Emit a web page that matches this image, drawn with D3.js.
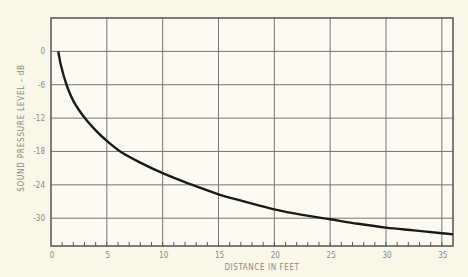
<!DOCTYPE html>
<html>
<head>
<meta charset="utf-8">
<script src="https://cdn.jsdelivr.net/npm/d3@7"></script>
<style>
  body { margin: 0; background: #f9f7e9; }
  svg { display: block; }
  text { font-family: "Liberation Sans Narrow", "DejaVu Sans Condensed", sans-serif; fill: #8a8a80; }
</style>
</head>
<body>
<div id="wrapper"></div>
<script>
// distance (feet) vs sound pressure level (dB)
const distance = [0.65, 0.9, 1.39, 2.0, 3.03, 4.0, 5.0, 6.2, 8, 10, 12.5, 15, 17.5, 20, 22.5, 25, 27.5, 30, 32.5, 35, 36]
const level    = [0, -2.6, -6, -8.9, -12, -14.2, -16.1, -18, -20, -21.9, -23.9, -25.7, -27.1, -28.4, -29.4, -30.2, -31.0, -31.7, -32.2, -32.7, -32.9]

const xTicks = [0, 5, 10, 15, 20, 25, 30, 35]
const yTicks = [0, -6, -12, -18, -24, -30]
const yTickLabels = ["0", "-6", "-12", "-18", "-24", "-30"]

function drawChart() {
  const width = 468
  const height = 277
  const margin = { top: 18, right: 15, bottom: 31, left: 51 }
  const boundedWidth = width - margin.left - margin.right
  const boundedHeight = height - margin.top - margin.bottom

  const svg = d3.select("#wrapper")
    .append("svg")
      .attr("width", width)
      .attr("height", height)

  const bounds = svg.append("g")
    .attr("transform", "translate(" + margin.left + "," + margin.top + ")")

  const x = d3.scaleLinear().domain([0, 36]).range([0, boundedWidth])
  const y = d3.scaleLinear().domain([6, -35]).range([0, boundedHeight])

  // plot area
  bounds.append("rect")
    .attr("width", boundedWidth)
    .attr("height", boundedHeight)
    .attr("fill", "#fcfbf2")

  // grid
  bounds.append("g")
    .selectAll("line")
    .data(xTicks.filter(d => d > 0))
    .enter().append("line")
      .attr("x1", d => x(d)).attr("x2", d => x(d))
      .attr("y1", 0).attr("y2", boundedHeight)
      .attr("stroke", "#77776f")
      .attr("stroke-width", 1)

  bounds.append("g")
    .selectAll("line")
    .data(yTicks)
    .enter().append("line")
      .attr("x1", 0).attr("x2", boundedWidth)
      .attr("y1", d => y(d)).attr("y2", d => y(d))
      .attr("stroke", "#77776f")
      .attr("stroke-width", 1)

  // minor ticks along the bottom, one per foot
  bounds.append("g")
    .selectAll("line")
    .data(d3.range(1, 36))
    .enter().append("line")
      .attr("x1", d => x(d)).attr("x2", d => x(d))
      .attr("y1", boundedHeight).attr("y2", boundedHeight - 4)
      .attr("stroke", "#555550")
      .attr("stroke-width", 1)

  // frame
  bounds.append("rect")
    .attr("width", boundedWidth)
    .attr("height", boundedHeight)
    .attr("fill", "none")
    .attr("stroke", "#55554f")
    .attr("stroke-width", 1.5)

  // curve
  const points = distance.map((d, i) => [d, level[i]])
  bounds.append("path")
    .datum(points)
    .attr("d", d3.line()
      .x(d => x(d[0]))
      .y(d => y(d[1]))
      .curve(d3.curveCatmullRom.alpha(0.5)))
    .attr("fill", "none")
    .attr("stroke", "#1a1a18")
    .attr("stroke-width", 2.4)

  // tick labels
  bounds.append("g")
    .selectAll("text")
    .data(xTicks)
    .enter().append("text")
      .attr("x", d => x(d) + 1)
      .attr("y", boundedHeight + 12)
      .attr("text-anchor", "middle")
      .style("font-size", "8px")
      .text(d => d)

  bounds.append("g")
    .selectAll("text")
    .data(yTicks)
    .enter().append("text")
      .attr("x", -6)
      .attr("y", d => y(d) + 3)
      .attr("text-anchor", "end")
      .style("font-size", "8px")
      .text((d, i) => yTickLabels[i])

  // axis titles
  svg.append("text")
    .attr("x", 262)
    .attr("y", 270)
    .attr("text-anchor", "middle")
    .style("font-size", "8px")
    .style("letter-spacing", "0.6px")
    .text("DISTANCE IN FEET")

  svg.append("text")
    .attr("transform", "translate(24,128) rotate(-90)")
    .attr("text-anchor", "middle")
    .style("font-size", "8px")
    .style("letter-spacing", "0.8px")
    .text("SOUND PRESSURE LEVEL - dB")
}

drawChart()
</script>
</body>
</html>
